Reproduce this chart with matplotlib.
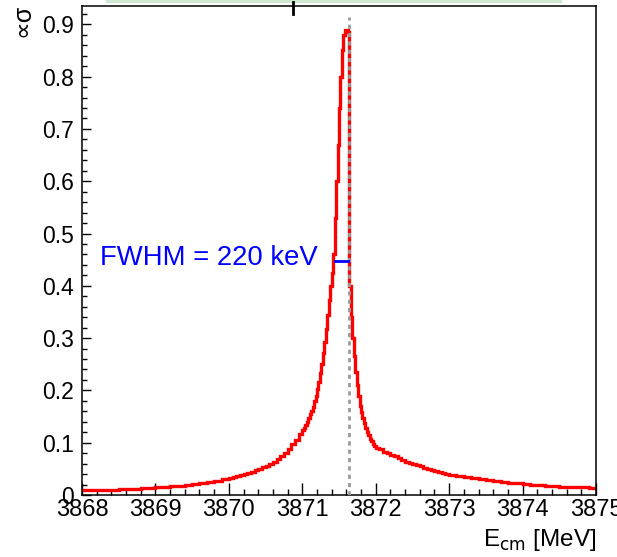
import numpy as np
import matplotlib
matplotlib.use("Agg")
from matplotlib import pyplot as plt
from matplotlib.lines import Line2D
from matplotlib.ticker import MultipleLocator

# bin contents, segment by segment
tail_left = [0.009, 0.009, 0.0095, 0.010, 0.0105, 0.011, 0.0115, 0.012, 0.013, 0.014,
             0.015, 0.016, 0.017, 0.018, 0.0195, 0.021, 0.023, 0.025, 0.027, 0.030]
rise = [0.033, 0.034, 0.036, 0.038, 0.040, 0.042, 0.044, 0.047, 0.050, 0.053,
        0.056, 0.060, 0.064, 0.069, 0.075, 0.081, 0.088, 0.097, 0.106, 0.117]
rise_fast = [0.124, 0.129, 0.134, 0.140, 0.147, 0.154, 0.161, 0.169, 0.179, 0.190,
             0.203, 0.217, 0.233, 0.251, 0.271, 0.293, 0.318, 0.345, 0.373, 0.400]
peak = [0.425, 0.46, 0.53, 0.60, 0.67, 0.74, 0.80, 0.85, 0.88, 0.89, 0.89, 0.885]
drop = [0.40, 0.34, 0.30, 0.265, 0.235, 0.21, 0.19, 0.17]
fall = [0.158, 0.148, 0.138, 0.129, 0.121, 0.114, 0.108, 0.103, 0.098, 0.094]
fall_slow = [0.090, 0.087, 0.083, 0.080, 0.077, 0.074, 0.070, 0.067, 0.064, 0.062,
             0.059, 0.057, 0.055, 0.052, 0.050, 0.048, 0.046, 0.044, 0.042, 0.041]
tail_right = [0.039, 0.036, 0.034, 0.032, 0.030, 0.028, 0.026, 0.025, 0.023, 0.022,
              0.021, 0.020, 0.019, 0.018, 0.017, 0.016, 0.0155, 0.015, 0.0145, 0.014]

# segment ranges [MeV] (finer binning near the peak)
segments = [(3868.0, 3870.0, tail_left), (3870.0, 3871.0, rise),
            (3871.0, 3871.4, rise_fast), (3871.4, 3871.64, peak),
            (3871.64, 3871.8, drop), (3871.8, 3872.0, fall),
            (3872.0, 3873.0, fall_slow), (3873.0, 3875.0, tail_right)]

edges = []
values = []
for lo, hi, v in segments:
    edges += list(np.linspace(lo, hi, len(v) + 1)[:-1])
    values += v
edges.append(segments[-1][1])

threshold = 3871.64
fwhm_lo, fwhm_hi, half_max = 3871.44, 3871.62, 0.447
xticks = [3868, 3869, 3870, 3871, 3872, 3873, 3874, 3875]
yticks = [0, 0.1, 0.2, 0.3, 0.4, 0.5, 0.6, 0.7, 0.8, 0.9]

plt.rcParams['font.family'] = ['Liberation Sans', 'DejaVu Sans']

fig = plt.figure(figsize=(6.17, 5.57), dpi=100)
ax = fig.add_axes([82/617, 1-495/557, 514/617, 489/557])

ax.stairs(values, edges, baseline=None, color='red', lw=2.4, zorder=2)
ax.plot([threshold, threshold], [0, 0.914], color='#999999', lw=2,
        linestyle=(0, (1.5, 1.5)), zorder=3)
ax.plot([fwhm_lo, fwhm_hi], [half_max, half_max], color='blue', lw=2, zorder=4)
ax.text(3868.25, 0.453, "FWHM = 220 keV", color='blue', fontsize=19.8,
        va='center', ha='left')

ax.set_xlim(3868, 3875)
ax.set_ylim(0, 0.935)
ax.set_xticks(xticks)
ax.set_xticklabels([str(t) for t in xticks])
ax.set_yticks(yticks)
ax.set_yticklabels(["0"] + ["%.1f" % t for t in yticks[1:]])
ax.xaxis.set_minor_locator(MultipleLocator(0.2))
ax.yaxis.set_minor_locator(MultipleLocator(0.02))
ax.tick_params(axis='both', which='both', direction='in', top=False, right=False)
ax.tick_params(axis='x', which='major', length=8.6, width=1, pad=3, labelsize=17)
ax.tick_params(axis='x', which='minor', length=4.3, width=1)
ax.tick_params(axis='y', which='major', length=6.5, width=1, pad=6, labelsize=16.5)
ax.tick_params(axis='y', which='minor', length=3.4, width=1)
for s in ax.spines.values():
    s.set_linewidth(1.1)

ax.text(1.0, -0.092, r"E$_{\rm cm}$ [MeV]", transform=ax.transAxes,
        ha='right', va='center', fontsize=17.5)
fig.text(22/617, 1-4/557, "∝σ", rotation=90, ha='center', va='top',
         fontsize=18)

# bits of the cropped figure above
fig.add_artist(Line2D([107/617, 560/617], [1-1/557, 1-1/557], color='#cfe8cf', lw=2.5))
fig.add_artist(Line2D([293/617, 293/617], [1-2/557, 1-14/557], color='black', lw=2))

fig.savefig("out.png", dpi=100)
